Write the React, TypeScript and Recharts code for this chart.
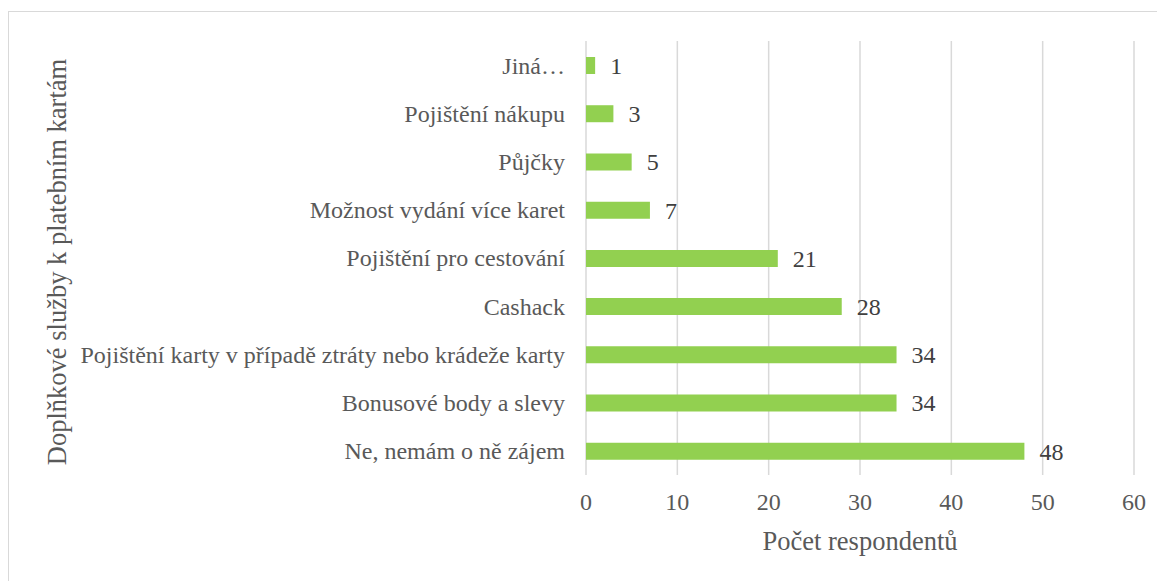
import React from 'react';
import { BarChart, Bar, XAxis, YAxis, CartesianGrid, LabelList } from 'recharts';

const categories = [
  'Jiná…',
  'Pojištění nákupu',
  'Půjčky',
  'Možnost vydání více karet',
  'Pojištění pro cestování',
  'Cashack',
  'Pojištění karty v případě ztráty nebo krádeže karty',
  'Bonusové body a slevy',
  'Ne, nemám o ně zájem',
];
const respondents = [1, 3, 5, 7, 21, 28, 34, 34, 48];
const xTicks = [0, 10, 20, 30, 40, 50, 60];

const data = categories.map((name, i) => ({ name, value: respondents[i] }));

const FONT = 'Liberation Serif';

function CategoryTick({ x, y, payload }: any) {
  return (
    <text x={x - 3} y={y} dy="0.35em" textAnchor="end" fill="#595959" fontSize={24} fontFamily={FONT}>
      {payload.value}
    </text>
  );
}

function NumberTick({ x, y, payload }: any) {
  return (
    <text x={x} y={y} dy="0.71em" textAnchor="middle" fill="#595959" fontSize={24} fontFamily={FONT}>
      {payload.value}
    </text>
  );
}

function ValueLabel({ x, y, width, height, value }: any) {
  return (
    <text
      x={x + width + 15}
      y={y + height / 2}
      dy="0.35em"
      textAnchor="start"
      fill="#404040"
      fontSize={24}
      fontFamily={FONT}
    >
      {value}
    </text>
  );
}

export default function App() {
  return (
    <div
      style={{
        marginTop: 3,
        width: 1157,
        height: 575,
        border: '1px solid #d9d9d9',
        boxSizing: 'border-box',
        background: '#fff',
      }}
    >
      <BarChart
        width={1155}
        height={573}
        data={data}
        layout="vertical"
        margin={{ top: 29, right: 30, bottom: 0, left: 0 }}
      >
        <CartesianGrid horizontal={false} stroke="#d9d9d9" strokeWidth={1.5} />
        <XAxis
          type="number"
          domain={[0, 60]}
          ticks={xTicks}
          axisLine={false}
          tickLine={false}
          tick={<NumberTick />}
          tickMargin={12}
          height={110}
        />
        <YAxis
          type="category"
          dataKey="name"
          width={577}
          axisLine={false}
          tickLine={false}
          tick={<CategoryTick />}
          tickMargin={12}
          interval={0}
        />
        <Bar dataKey="value" fill="#92d050" barSize={17} isAnimationActive={false}>
          <LabelList dataKey="value" content={<ValueLabel />} />
        </Bar>
        <text x={860 - 9} y={550 - 12} textAnchor="middle" fill="#595959" fontSize={26.5} fontFamily={FONT}>
          Počet respondentů
        </text>
        <text
          x={66 - 9}
          y={262 - 12}
          textAnchor="middle"
          fill="#595959"
          fontSize={26.5}
          fontFamily={FONT}
          transform={`rotate(-90, ${66 - 9}, ${262 - 12})`}
        >
          Doplňkové služby k platebním kartám
        </text>
      </BarChart>
    </div>
  );
}
